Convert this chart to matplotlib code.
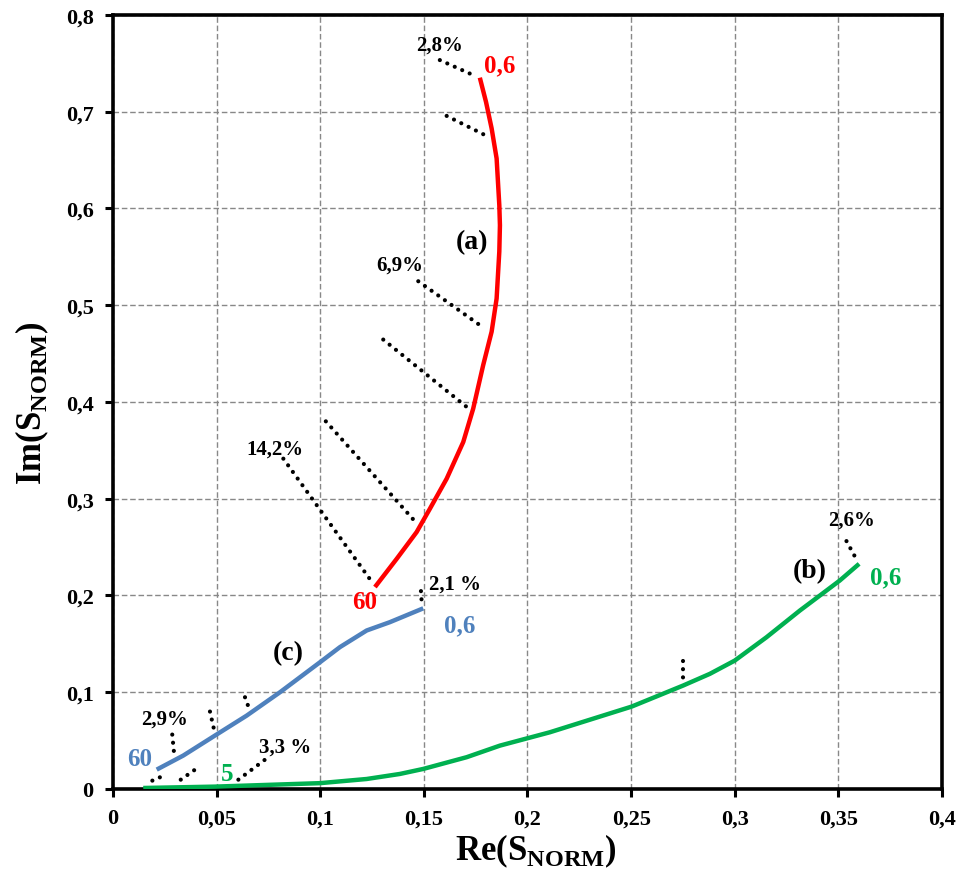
import matplotlib
matplotlib.use("Agg")
import matplotlib.pyplot as plt

plt.rcParams['font.family'] = ['Liberation Serif', 'DejaVu Serif']
plt.rcParams['font.weight'] = 'bold'
plt.rcParams['mathtext.fontset'] = 'custom'
plt.rcParams['mathtext.rm'] = 'Liberation Serif:bold'
plt.rcParams['mathtext.bf'] = 'Liberation Serif:bold'

# curve (a), red
a_re = [0.1264, 0.1369, 0.1465, 0.1529, 0.1610, 0.1690, 0.1738, 0.1786,
        0.1827, 0.1851, 0.1864, 0.1867, 0.1864, 0.1851, 0.1827, 0.1800, 0.1770]
a_im = [0.2087, 0.2379, 0.2655, 0.2896, 0.3207, 0.3586, 0.3931, 0.4379,
        0.4727, 0.5069, 0.5555, 0.5827, 0.6034, 0.6517, 0.6827, 0.7100, 0.7352]

# curve (b), green
b_re = [0.0146, 0.0490, 0.0999, 0.1224, 0.1384, 0.1497, 0.1706, 0.1867,
        0.2108, 0.2502, 0.2751, 0.2880, 0.3000, 0.3153, 0.3314, 0.3411,
        0.3507, 0.3600]
b_im = [0.0010, 0.0024, 0.0060, 0.0103, 0.0155, 0.0207, 0.0328, 0.0448,
        0.0586, 0.0851, 0.1069, 0.1190, 0.1327, 0.1568, 0.1844, 0.2000,
        0.2155, 0.2327]

# curve (c), blue
c_re = [0.0211, 0.0339, 0.0492, 0.0645, 0.0806, 0.0999, 0.1095, 0.1224,
        0.1336, 0.1497]
c_im = [0.0200, 0.0345, 0.0552, 0.0758, 0.1000, 0.1310, 0.1466, 0.1638,
        0.1724, 0.1867]

# dotted guide segments: (x0, y0, x1, y1)
guides = [
    (0.1577, 0.7534, 0.1738, 0.7379),
    (0.1610, 0.6957, 0.1803, 0.6750),
    (0.1473, 0.5248, 0.1790, 0.4764),
    (0.1304, 0.4645, 0.1703, 0.3955),
    (0.1027, 0.3800, 0.1453, 0.2776),
    (0.0822, 0.3414, 0.1248, 0.2144),
    (0.1486, 0.2045, 0.1489, 0.1948),
    (0.0286, 0.0562, 0.0294, 0.0386),
    (0.0468, 0.0800, 0.0487, 0.0620),
    (0.0637, 0.0948, 0.0653, 0.0853),
    (0.0190, 0.0086, 0.0227, 0.0121),
    (0.0327, 0.0096, 0.0396, 0.0200),
    (0.0605, 0.0096, 0.0738, 0.0310),
    (0.2751, 0.1327, 0.2751, 0.1145),
    (0.3539, 0.2562, 0.3579, 0.2405),
]

# annotations: (x, y, text, color, size)
labels = [
    (0.1577, 0.7696, '2,8%', 'black', 15),
    (0.1867, 0.7480, '0,6', 'red', 18),
    (0.1732, 0.5658, '(a)', 'black', 20),
    (0.1384, 0.5420, '6,9%', 'black', 15),
    (0.0781, 0.3517, '14,2%', 'black', 15),
    (0.1216, 0.1934, '60', 'red', 18),
    (0.1650, 0.2120, '2,1 %', 'black', 15),
    (0.1674, 0.1696, '0,6', '#4F81BD', 18),
    (0.0844, 0.1407, '(c)', 'black', 20),
    (0.0251, 0.0724, '2,9%', 'black', 15),
    (0.0130, 0.0310, '60', '#4F81BD', 18),
    (0.0550, 0.0155, '5', '#00B050', 18),
    (0.0830, 0.0434, '3,3 %', 'black', 15),
    (0.3362, 0.2255, '(b)', 'black', 20),
    (0.3729, 0.2193, '0,6', '#00B050', 18),
    (0.3565, 0.2783, '2,6%', 'black', 15),
]

x_ticks = [0, 0.05, 0.1, 0.15, 0.2, 0.25, 0.3, 0.35, 0.4]
x_tick_labels = ['0', '0,05', '0,1', '0,15', '0,2', '0,25', '0,3', '0,35', '0,4']
y_ticks = [0, 0.1, 0.2, 0.3, 0.4, 0.5, 0.6, 0.7, 0.8]
y_tick_labels = ['0', '0,1', '0,2', '0,3', '0,4', '0,5', '0,6', '0,7', '0,8']

fig = plt.figure(figsize=(9.59, 8.79), dpi=100)
ax = fig.add_axes([0.1178, 0.1013, 0.8645, 0.8805])

for x0, y0, x1, y1 in guides:
    ax.plot([x0, x1], [y0, y1], color='black', lw=3.0,
            linestyle=(0, (0.01, 1.95)), dash_capstyle='round', zorder=3)

ax.plot(a_re, a_im, color='#FF0000', lw=3.2, solid_capstyle='butt',
        solid_joinstyle='round', zorder=4)
ax.plot(b_re, b_im, color='#00B050', lw=3.2, solid_capstyle='butt',
        solid_joinstyle='round', zorder=4)
ax.plot(c_re, c_im, color='#4F81BD', lw=3.2, solid_capstyle='butt',
        solid_joinstyle='round', zorder=4)

for x, y, t, col, s in labels:
    ax.text(x, y, t, color=col, fontsize=s, fontweight='bold',
            ha='center', va='center', zorder=5)

ax.set_xlim(0, 0.4)
ax.set_ylim(0, 0.8)
ax.set_xticks(x_ticks, x_tick_labels)
ax.set_yticks(y_ticks, y_tick_labels)
ax.tick_params(labelsize=16, direction='out', length=6, width=2.2, pad=8)
for lab in ax.get_xticklabels() + ax.get_yticklabels():
    lab.set_fontweight('bold')

ax.grid(True, color='#888888', linestyle=(0, (4, 2)), lw=1.0)
ax.set_axisbelow(True)
for sp in ax.spines.values():
    sp.set_linewidth(2.6)
    sp.set_color('black')

ax.set_xlabel(r'Re(S$_{\mathbf{NORM}}$)', fontsize=25, fontweight='bold')
ax.set_ylabel(r'Im(S$_{\mathbf{NORM}}$)', fontsize=25, fontweight='bold')
ax.xaxis.set_label_coords(0.51, -0.055)
ax.yaxis.set_label_coords(-0.075, 0.5)

fig.savefig('out.png', dpi=100)
